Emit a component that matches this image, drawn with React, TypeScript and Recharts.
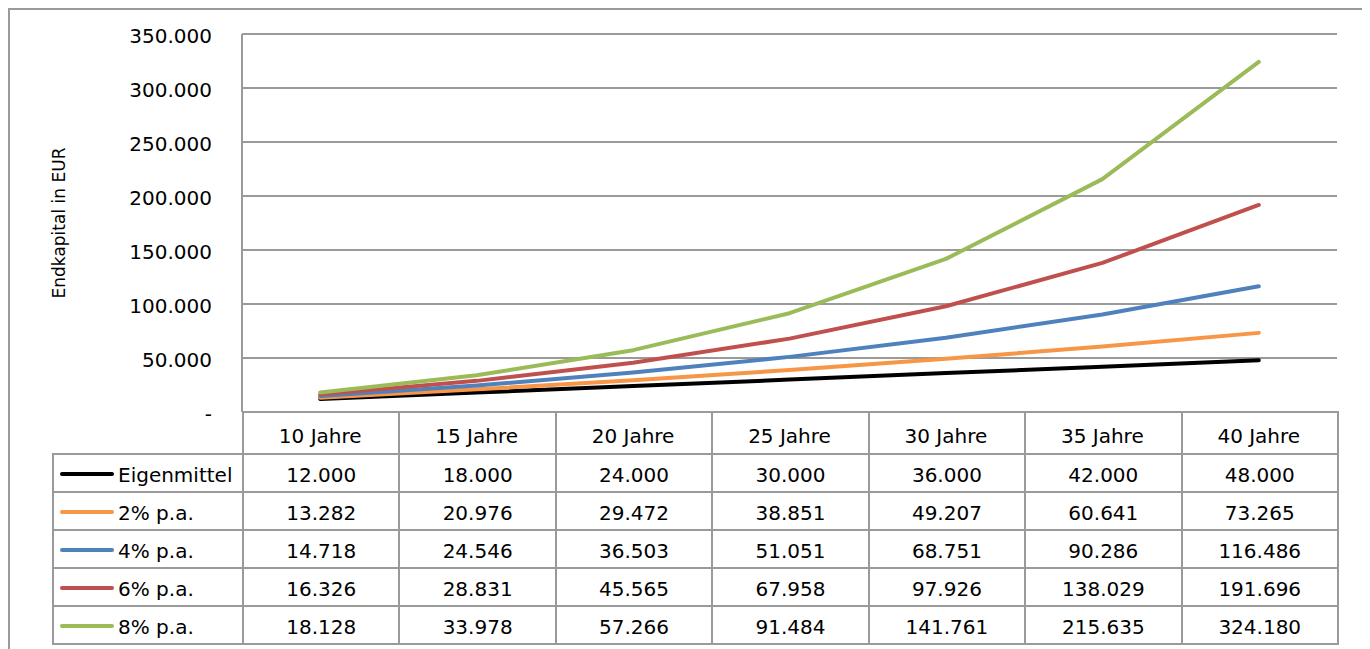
import React from 'react';
import { LineChart, Line, XAxis, YAxis, CartesianGrid } from 'recharts';

const categories = ['10 Jahre', '15 Jahre', '20 Jahre', '25 Jahre', '30 Jahre', '35 Jahre', '40 Jahre'];
const eigenmittel = [12000, 18000, 24000, 30000, 36000, 42000, 48000];
const pa2 = [13282, 20976, 29472, 38851, 49207, 60641, 73265];
const pa4 = [14718, 24546, 36503, 51051, 68751, 90286, 116486];
const pa6 = [16326, 28831, 45565, 67958, 97926, 138029, 191696];
const pa8 = [18128, 33978, 57266, 91484, 141761, 215635, 324180];
const yTicks = [0, 50000, 100000, 150000, 200000, 250000, 300000, 350000];

const series = [
  { key: 'eigen', name: 'Eigenmittel', values: eigenmittel, color: '#000000' },
  { key: 'p2', name: '2% p.a.', values: pa2, color: '#F79646' },
  { key: 'p4', name: '4% p.a.', values: pa4, color: '#4F81BD' },
  { key: 'p6', name: '6% p.a.', values: pa6, color: '#C0504D' },
  { key: 'p8', name: '8% p.a.', values: pa8, color: '#9BBB59' },
];

const data = categories.map((c, i) => {
  const row: Record<string, string | number> = { cat: c };
  series.forEach((s) => (row[s.key] = s.values[i]));
  return row;
});

const FONT = '"DejaVu Sans", sans-serif';
const GRID = '#9a9a9a';

// excel style thousands with dot, zero shown as dash
const fmt = (v: number) => (v === 0 ? '- ' : String(v).replace(/\B(?=(\d{3})+(?!\d))/g, '.'));

const CHART_W = 1355;
const CHART_H = 640;
const PLOT_LEFT = 232;
const PLOT_RIGHT = 1327;
const PLOT_BOTTOM = 402;
const HEAD_H = 42;
const ROW_H = 38;
const LEGEND_W = 190;
const colW = (PLOT_RIGHT - PLOT_LEFT) / categories.length;

const cell: React.CSSProperties = {
  border: `2px solid ${GRID}`,
  padding: '4px 0 0 0',
  textAlign: 'center',
  verticalAlign: 'middle',
  fontFamily: FONT,
  fontSize: 20,
  lineHeight: '24px',
  color: '#000',
};

function HeaderTick(props: any) {
  const { x, y, payload } = props;
  return (
    <text x={x} y={y + HEAD_H / 2 + 4} textAnchor="middle" dominantBaseline="middle" fontFamily={FONT} fontSize={20} fill="#000">
      {payload.value}
    </text>
  );
}

function YLabel(props: any) {
  const { x, y, height } = props.viewBox;
  const cx = x + 50;
  const cy = y + height / 2;
  return (
    <text x={cx} y={cy} transform={`rotate(-90 ${cx} ${cy})`} textAnchor="middle" dominantBaseline="middle" fontFamily={FONT} fontSize={17} fill="#000">
      Endkapital in EUR
    </text>
  );
}

export default function App() {
  return (
    <div style={{ position: 'relative', width: CHART_W, height: CHART_H, border: `2px solid ${GRID}`, background: '#fff' }}>
      <LineChart
        width={CHART_W}
        height={CHART_H}
        data={data}
        margin={{ top: 24, right: CHART_W - PLOT_RIGHT, bottom: CHART_H - PLOT_BOTTOM - HEAD_H, left: 0 }}
      >
        <CartesianGrid vertical={false} stroke={GRID} strokeWidth={2} />
        <XAxis
          dataKey="cat"
          height={HEAD_H}
          axisLine={false}
          tickLine={false}
          tickSize={0}
          tickMargin={0}
          padding={{ left: colW / 2, right: colW / 2 }}
          interval={0}
          tick={<HeaderTick />}
        />
        <YAxis
          width={PLOT_LEFT}
          domain={[0, 350000]}
          ticks={yTicks}
          tickFormatter={fmt}
          axisLine={{ stroke: GRID, strokeWidth: 2 }}
          tickLine={false}
          tickSize={0}
          tickMargin={30}
          tick={{ fill: '#000', fontSize: 20, fontFamily: FONT, dy: 2 }}
          label={{ content: <YLabel /> }}
        />
        {series.map((s) => (
          <Line
            key={s.key}
            dataKey={s.key}
            name={s.name}
            stroke={s.color}
            strokeWidth={4}
            strokeLinecap="round"
            strokeLinejoin="round"
            dot={false}
            activeDot={false}
            isAnimationActive={false}
          />
        ))}
      </LineChart>
      <table
        style={{
          position: 'absolute',
          left: PLOT_LEFT - LEGEND_W,
          top: PLOT_BOTTOM - 1,
          borderCollapse: 'collapse',
          tableLayout: 'fixed',
          width: LEGEND_W + colW * categories.length,
        }}
      >
        <colgroup>
          <col style={{ width: LEGEND_W }} />
          {categories.map((c) => (
            <col key={c} style={{ width: colW }} />
          ))}
        </colgroup>
        <tbody>
          <tr style={{ height: HEAD_H }}>
            <td style={{ ...cell, border: 'none' }} />
            {categories.map((c) => (
              <td key={c} style={cell} />
            ))}
          </tr>
          {series.map((s) => (
            <tr key={s.key} style={{ height: ROW_H }}>
              <td style={{ ...cell, textAlign: 'left', whiteSpace: 'nowrap' }}>
                <span
                  style={{
                    display: 'inline-block',
                    width: 54,
                    height: 4,
                    borderRadius: 2,
                    background: s.color,
                    marginLeft: 6,
                    marginRight: 4,
                    verticalAlign: 'middle',
                    position: 'relative',
                    top: -3,
                  }}
                />
                {s.name}
              </td>
              {s.values.map((v, i) => (
                <td key={i} style={cell}>
                  {fmt(v)}
                </td>
              ))}
            </tr>
          ))}
        </tbody>
      </table>
    </div>
  );
}
